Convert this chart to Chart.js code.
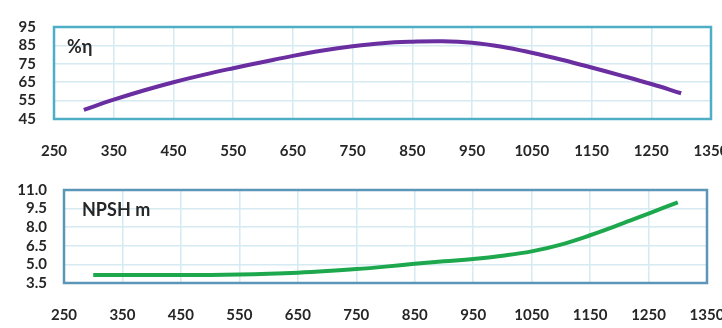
<!DOCTYPE html>
<html>
<head>
<meta charset="utf-8">
<script src="https://cdn.jsdelivr.net/npm/chart.js@4"></script>
<style>
  html, body { margin: 0; padding: 0; background: #fff; overflow: hidden; }
  .wrap { position: absolute; left: 0; width: 722px; }
  #topWrap { top: 0; height: 164px; }
  #botWrap { top: 164px; height: 164px; }
</style>
</head>
<body>
<div class="wrap" id="topWrap"><canvas id="effChart"></canvas></div>
<div class="wrap" id="botWrap"><canvas id="npshChart"></canvas></div>
<script>
// flow values (x) shared by both curves
const flow = [300, 350, 400, 450, 500, 550, 600, 650, 700, 750, 800, 850, 900, 950, 1000, 1050, 1100, 1150, 1200, 1250, 1300];
// efficiency %
const efficiency = [50, 55.5, 60.5, 65, 69, 72.6, 76, 79.3, 82.2, 84.5, 86.2, 87, 87.3, 86.5, 84.3, 81, 77.2, 73, 68.6, 64, 59];
// NPSH in metres
const npsh = [4.15, 4.15, 4.15, 4.15, 4.15, 4.18, 4.24, 4.33, 4.46, 4.62, 4.82, 5.05, 5.25, 5.44, 5.7, 6.05, 6.6, 7.35, 8.2, 9.1, 10.0];

const xTicks = [250, 350, 450, 550, 650, 750, 850, 950, 1050, 1150, 1250, 1350];
const effTicks = [45, 55, 65, 75, 85, 95];
const npshTicks = [3.5, 5.0, 6.5, 8.0, 9.5, 11.0];

const tickFont = { family: 'Lato', size: 15, weight: 'bold' };

// draws the frame around the plot and the small caption inside it
function framePlugin(caption, frameColor, capX) {
  return {
    id: 'frame',
    afterDraw(chart) {
      const { ctx, chartArea: a } = chart;
      ctx.save();
      ctx.strokeStyle = frameColor;
      ctx.lineWidth = 2.5;
      ctx.strokeRect(a.left, a.top, a.right - a.left, a.bottom - a.top);
      ctx.fillStyle = '#262626';
      ctx.font = 'bold 18px Lato';
      ctx.textBaseline = 'middle';
      ctx.fillText(caption, a.left + capX, a.top + 20);
      ctx.restore();
    }
  };
}

function makeChart(id, data, color, yTicks, yMin, yMax, decimals, yWidth, rightPad, caption, frameColor, capX) {
  return new Chart(document.getElementById(id), {
    type: 'line',
    data: {
      datasets: [{
        data: flow.map((f, i) => ({ x: f, y: data[i] })),
        borderColor: color,
        borderWidth: 4,
        pointRadius: 0,
        tension: 0.4,
        fill: false
      }]
    },
    options: {
      responsive: true,
      maintainAspectRatio: false,
      animation: false,
      layout: { padding: { top: 17, right: rightPad, left: 0, bottom: 0 } },
      plugins: { legend: { display: false }, tooltip: { enabled: false } },
      scales: {
        x: {
          type: 'linear',
          min: 250, max: 1350,
          afterBuildTicks: s => { s.ticks = xTicks.map(v => ({ value: v })); },
          afterFit: s => { s.height = 45; s.paddingLeft = 0; s.paddingRight = 0; },
          grid: { color: '#d6eaf1', lineWidth: 1.5, drawTicks: false },
          border: { display: false },
          ticks: { color: '#262626', font: tickFont, padding: 23, maxRotation: 0, autoSkip: false,
                   callback: v => String(v) }
        },
        y: {
          min: yMin, max: yMax,
          afterBuildTicks: s => { s.ticks = yTicks.map(v => ({ value: v })); },
          afterFit: s => { s.width = yWidth; },
          grid: { color: '#d6eaf1', lineWidth: 1.5, drawTicks: false },
          border: { display: false },
          ticks: {
            color: '#262626', font: tickFont, autoSkip: false,
            padding: yWidth - 36 - (decimals ? 11 : 0),
            callback: v => v.toFixed(decimals)
          }
        }
      }
    },
    plugins: [framePlugin(caption, frameColor, capX)]
  });
}

makeChart('effChart', efficiency, '#6a2ea0', effTicks, 45, 95, 0, 54, 11, '%\u03b7', '#4eaec6', 13);
makeChart('npshChart', npsh, '#1ea84e', npshTicks, 3.5, 11, 1, 64, 15, 'NPSH m', '#5b95b8', 18);
</script>
</body>
</html>
